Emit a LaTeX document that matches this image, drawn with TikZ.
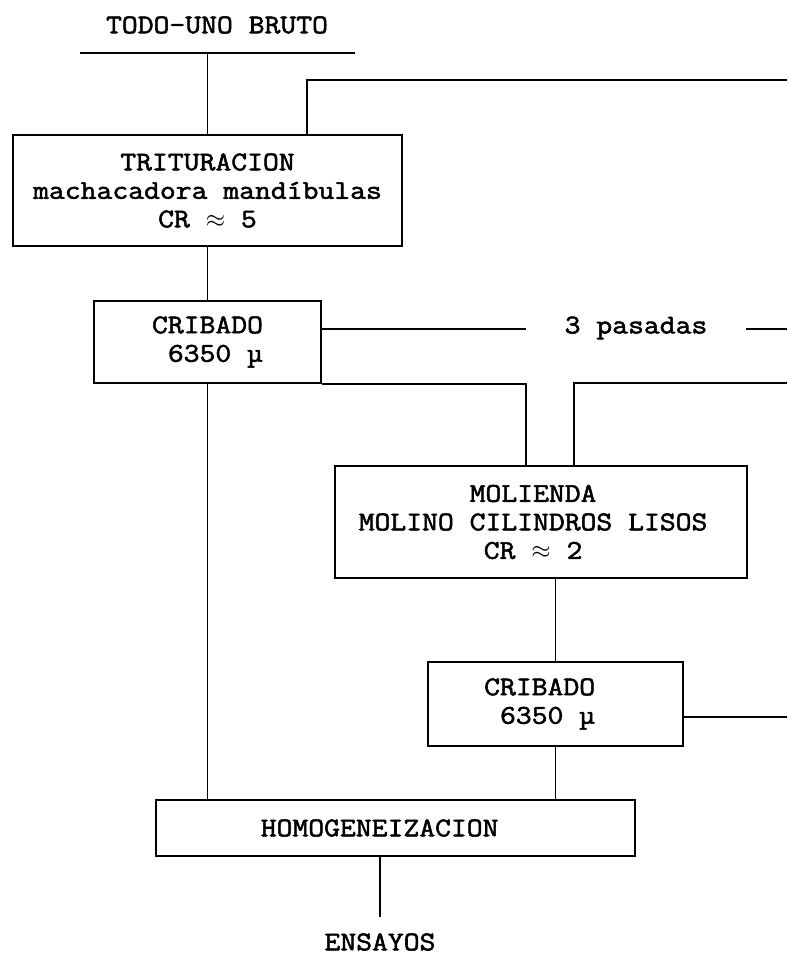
\documentclass[tikz,border=0pt]{standalone}
\usepackage{fontspec}
\setmonofont[FakeStretch=1.14,FakeBold=2]{Latin Modern Mono}
\usepackage{tikz}
\usetikzlibrary{positioning, calc}

\begin{document}
\begin{tikzpicture}[x=1pt, y=-1pt, line width=1.6pt,
  every node/.style={font=\ttfamily\fontsize{27}{28.5}\selectfont, align=center},
  box/.style={draw, inner sep=0pt}]
  \useasboundingbox (0,0) rectangle (787,968);
  \node (bruto) at (217,25) {TODO-UNO BRUTO};
  \coordinate (inl) at (80,53);
  \coordinate (inr) at (355,53);
  \node[box, minimum width=389pt, minimum height=111pt] (trit) at (207.5,190.5) {TRITURACION\\machacadora mandíbulas\\CR $\approx$ 5};
  \coordinate (ret1) at (307,80);
  \coordinate (ret1end) at (787,80);
  \node[box, minimum width=227pt, minimum height=82pt] (crib1) at (207.5,342) {CRIBADO\\\hphantom{0}6350 µ};
  \node[inner xsep=38pt] (pas) at (636,328) {3 pasadas};
  \coordinate (c1out) at ([yshift=13pt]crib1.east);
  \coordinate (rim) at (787,0);
  \coordinate (ret2) at (787,383);
  \node[box, minimum width=412pt, minimum height=112pt] (mol) at (541,522) {MOLIENDA\hphantom{0}\\MOLINO CILINDROS LISOS\hphantom{0}\\CR $\approx$ 2\hphantom{0}};
  \node[box, minimum width=255pt, minimum height=84pt] (crib2) at (555.5,704) {CRIBADO\hphantom{00}\\\hphantom{0}6350 µ\hphantom{00}};
  \coordinate (c2out) at ([yshift=-13pt]crib2.east);
  \node[box, minimum width=479pt, minimum height=56pt] (homog) at (395.5,828) {HOMOGENEIZACION\hphantom{00}};
  \node (ens) at (380,942) {ENSAYOS};

  \draw (inl) -- (inr);
  \draw (inl -| trit.north) -- (trit.north);
  \draw (trit.north -| ret1) -- (ret1) -- (ret1end);
  \draw (trit.south) -- (crib1.north);
  \draw (c1out) -- (c1out -| pas.west);
  \draw (c1out -| pas.east) -- (c1out -| rim);
  \draw (crib1.south east) -| ([xshift=-15pt]mol.north);
  \draw (ret2) -| ([xshift=33pt]mol.north);
  \draw (crib1.south) -- (crib1.south |- homog.north);
  \draw (mol.south -| crib2.north) -- (crib2.north);
  \draw (c2out) -- (c2out -| rim);
  \draw (crib2.south) -- (crib2.south |- homog.north);
  \draw (ens.north |- homog.south) -- ([yshift=12pt]ens.north);
\end{tikzpicture}
\end{document}
